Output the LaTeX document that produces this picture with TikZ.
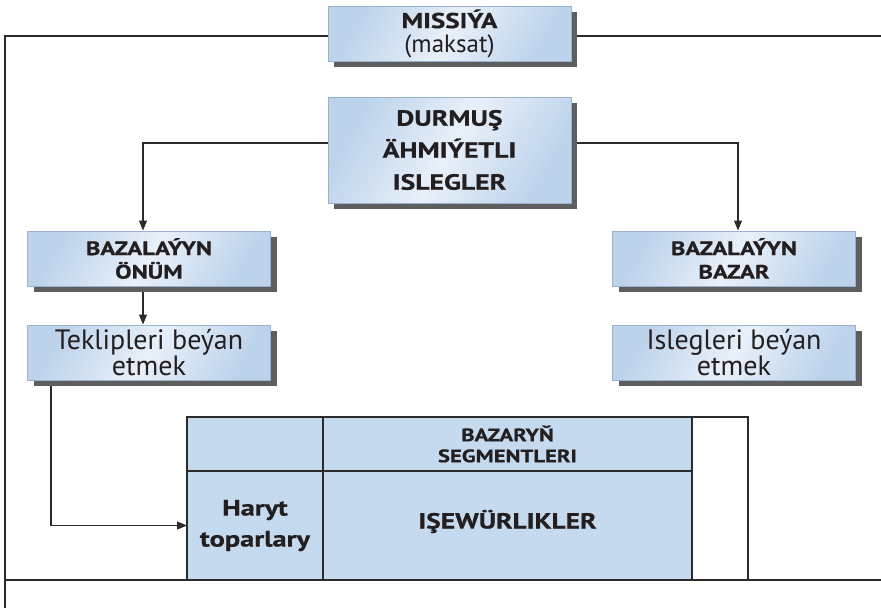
\documentclass[tikz,border=0pt]{standalone}
\usepackage{fontspec}
\setmainfont{PT Sans}[BoldFeatures={FakeStretch=1.26,FakeBold=0.6}]
\usetikzlibrary{arrows.meta,shadows,calc,backgrounds}
\definecolor{boxblue}{HTML}{BDD3EB}
\definecolor{boxlight}{HTML}{E8F0F9}
\definecolor{boxedge}{HTML}{98B2D0}
\definecolor{shadowgray}{HTML}{5E5E5E}
\definecolor{cellblue}{HTML}{C5DAEE}
\definecolor{linegray}{HTML}{2B2B2B}
\definecolor{inkblack}{HTML}{231F20}
\begin{document}
\begin{tikzpicture}[x=1pt,y=-1pt,
  bluebox/.style={draw=boxedge, line width=1pt, top color=boxblue, bottom color=boxblue,
    middle color=boxlight, shading angle=60,
    drop shadow={shadow xshift=6pt, shadow yshift=-6pt, fill=shadowgray, opacity=1},
    minimum width=243pt, inner sep=0pt, align=center, text=inkblack},
  cell/.style={draw=linegray, fill=cellblue, line width=1.3pt, inner sep=0pt, outer sep=0pt,
    align=center, text=inkblack},
  frame/.style={draw=linegray, line width=1.1pt},
  conn/.style={draw=linegray, line width=1.1pt},
  arr/.style={conn, -{Triangle[length=10pt,width=8pt]}},
  midbold/.style={font=\fontsize{19.5}{23.5}\selectfont\bfseries},
  smallbold/.style={font=\fontsize{18}{21}\selectfont\bfseries},
  plain/.style={font=\fontsize{28}{26}\selectfont}
]
\useasboundingbox (0,0) rectangle (881,608);

% outer frame
\coordinate (ftl) at (5,36);
\coordinate (ftr) at (881,36);
\coordinate (fbl) at (5,608);
\coordinate (fml) at (5,580);
\coordinate (fmr) at (881,580);
\draw[frame] (ftr) -- (ftl) -- (fbl);
\draw[frame] (fml) -- (fmr);

% boxes
\node[bluebox, minimum height=55pt, font=\fontsize{25}{24}\selectfont] (mis) at (449.5,33.5)
  {{\fontsize{21.5}{24}\selectfont\bfseries MISSI^^^^00ddA}\\(maksat)};
\node[bluebox, minimum height=106pt, font=\fontsize{22}{32}\selectfont\bfseries] (dur) at (449.5,150)
  {DURMUŞ\\ÄHMI^^^^00ddETLI\\ISLEGLER};
\node[bluebox, minimum height=55pt, midbold] (onum) at (149,258.5) {BAZALA^^^^00ddYN\\ÖNÜM};
\node[bluebox, minimum height=55pt, midbold] (bazar) at (734,258.5) {BAZALA^^^^00ddYN\\BAZAR};
\node[bluebox, minimum height=55pt, plain] (tek) at (149,352.5) {Teklipleri be^^^^00fdan\\etmek};
\node[bluebox, minimum height=55pt, plain] (isl) at (734,352.5) {Islegleri be^^^^00fdan\\etmek};

% table
\node[cell, minimum width=136pt, minimum height=54pt] (hl) at (255,444) {};
\node[cell, minimum width=369pt, minimum height=54pt, smallbold] (hr) at (507.5,444) {BAZARYŇ\\SEGMENTLERI};
\node[cell, minimum width=136pt, minimum height=109pt, font=\fontsize{22.5}{31}\selectfont\bfseries] (haryt) at (255,525.5) {Haryt\\toparlary};
\node[cell, minimum width=369pt, minimum height=109pt, text height=19pt, text depth=13pt,
  font=\fontsize{21.8}{26}\selectfont\bfseries] (isew) at (507.5,525.5) {IŞEWÜRLIKLER};
\node[draw=linegray, line width=1.1pt, inner sep=0pt, minimum width=56pt, minimum height=163pt] (blank) at (720,498.5) {};

% connectors
\begin{scope}[on background layer]
\coordinate (dl) at ($(dur.west)+(0,-7)$);
\coordinate (dr) at ($(dur.east)+(0,-7)$);
\coordinate (ot) at ($(onum.north)+(-6,0)$);
\coordinate (bt) at ($(bazar.north)+(4,0)$);
\coordinate (ob) at ($(onum.south)+(-6,0)$);
\coordinate (tt) at ($(tek.north)+(-6,0)$);
\coordinate (tb) at ($(tek.south west)+(24,0)$);
\draw[arr] (dl) -| (ot);
\draw[arr] (dr) -| (bt);
\draw[arr] (ob) -- (tt);
\draw[arr] (tb) |- (haryt.west);
\end{scope}
\end{tikzpicture}
\end{document}
